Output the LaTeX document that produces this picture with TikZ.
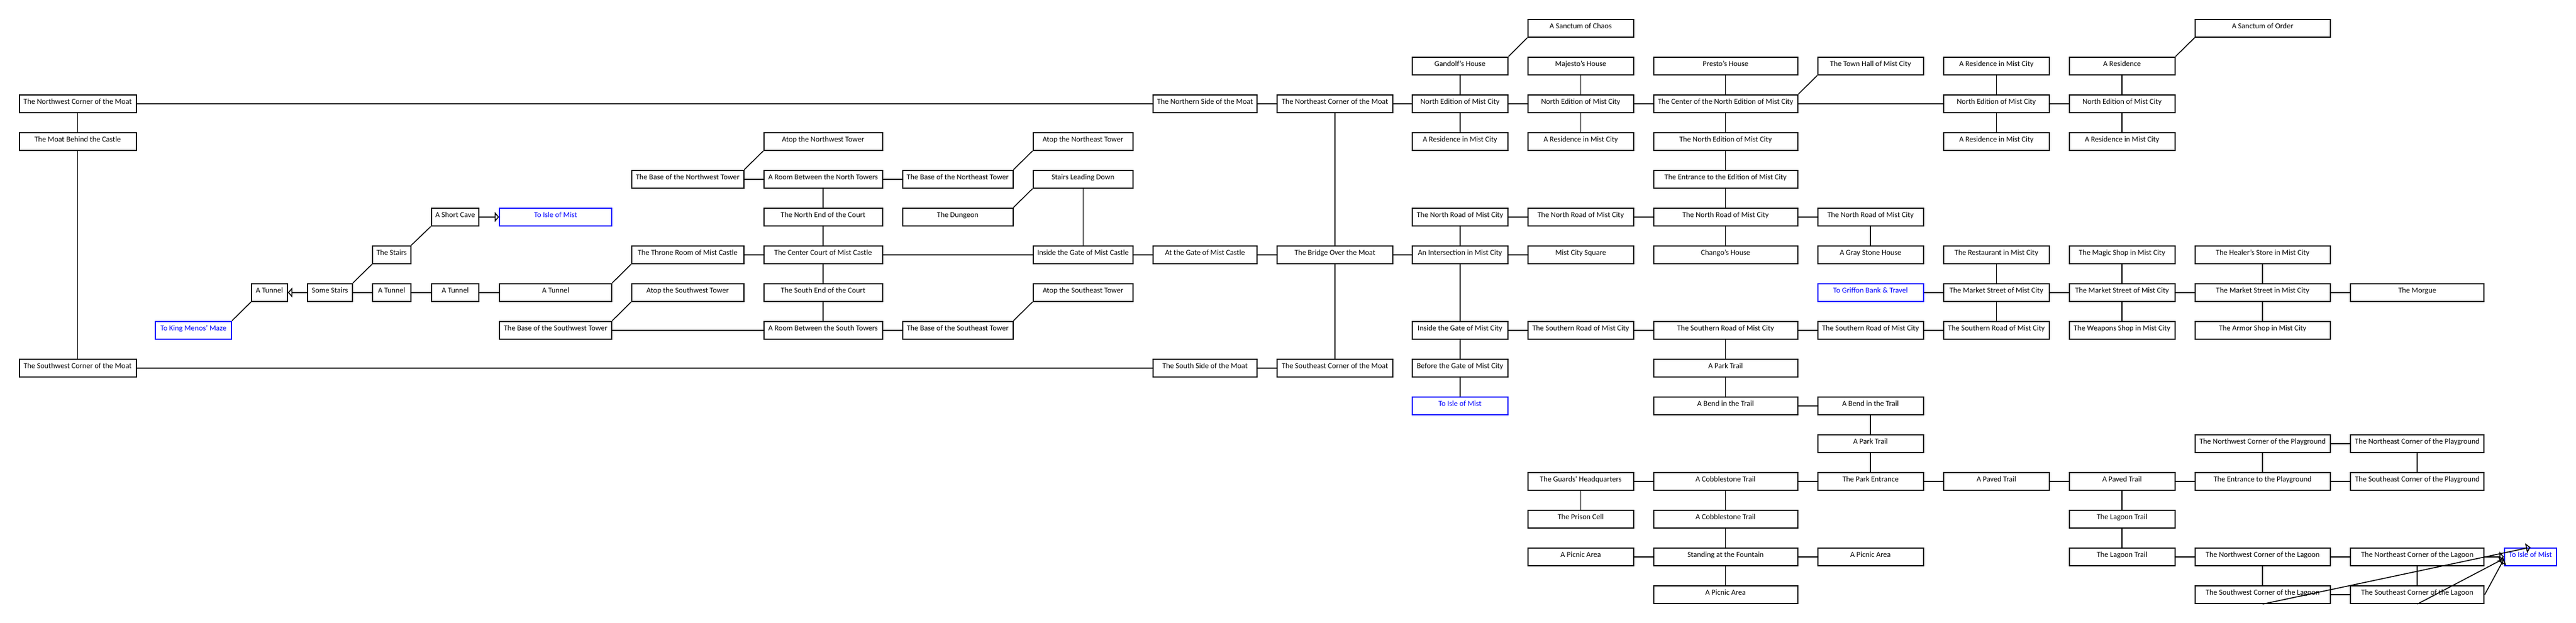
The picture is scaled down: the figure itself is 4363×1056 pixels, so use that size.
\documentclass[tikz,border=0pt]{standalone}
\usepackage{fontspec}
\setmainfont{Carlito}
\usetikzlibrary{arrows.meta}
\newcommand\defcol[3]{\expandafter\def\csname colL#1\endcsname{#2}\expandafter\def\csname colR#1\endcsname{#3}}
\defcol{0}{31.6}{231.5}
\defcol{1}{262.4}{392.9}
\defcol{2}{425}{487.6}
\defcol{3}{519.8}{597.7}
\defcol{4}{630}{696.6}
\defcol{5}{729.6}{812.4}
\defcol{6}{845.3}{1036.9}
\defcol{7}{1068.9}{1260.5}
\defcol{8}{1292.7}{1495.5}
\defcol{9}{1527.7}{1716.5}
\defcol{10}{1748.7}{1919.9}
\defcol{11}{1951.5}{2130.4}
\defcol{12}{2162.4}{2359.6}
\defcol{13}{2390.6}{2555}
\defcol{14}{2586.8}{2767.8}
\defcol{15}{2799.5}{3045.8}
\defcol{16}{3077.8}{3258.5}
\defcol{17}{3290.8}{3471.8}
\defcol{18}{3503.5}{3684.8}
\defcol{19}{3717}{3947.5}
\defcol{20}{3980}{4208.4}
\defcol{21}{4240.9}{4330.7}
\newcommand\roombox[5][]{%
  \node[room,#1,minimum width={\csname colR#3\endcsname-\csname colL#3\endcsname-2}]
    (#2) at ({(\csname colL#3\endcsname+\csname colR#3\endcsname)/2},{47.8+64*#4}) {#5};}
\tikzset{
  room/.style={draw=black, line width=2pt, rectangle, inner xsep=0pt, inner ysep=0pt,
    text height=16pt, text depth=14.3pt, font=\fontsize{13}{15}\selectfont},
  warp/.style={draw=blue, text=blue},
  link/.style={line width=1.6pt, draw=black},
  arr/.style={link, -{Triangle[open, length=7.5pt, width=17pt]}},
}
\begin{document}
\begin{tikzpicture}[x=1pt,y=-1pt]
\fill[white] (0,0) rectangle (4363,1056);
\useasboundingbox (0,0) rectangle (4363,1056);
% column 0
\roombox{nwm}{0}{2}{The Northwest Corner of the Moat}
\roombox{moatb}{0}{3}{The Moat Behind the Castle}
\roombox{swm}{0}{9}{The Southwest Corner of the Moat}
\roombox[warp]{menos}{1}{8}{To King Menos' Maze}
\roombox{tun1}{2}{7}{A Tunnel}
\roombox{somest}{3}{7}{Some Stairs}
\roombox{stairs}{4}{6}{The Stairs}
\roombox{tun2}{4}{7}{A Tunnel}
\roombox{cave}{5}{5}{A Short Cave}
\roombox{tun3}{5}{7}{A Tunnel}
\roombox[warp]{isleA}{6}{5}{To Isle of Mist}
\roombox{tun4}{6}{7}{A Tunnel}
\roombox{basesw}{6}{8}{The Base of the Southwest Tower}
\roombox{basenw}{7}{4}{The Base of the Northwest Tower}
\roombox{throne}{7}{6}{The Throne Room of Mist Castle}
\roombox{atopsw}{7}{7}{Atop the Southwest Tower}
\roombox{atopnw}{8}{3}{Atop the Northwest Tower}
\roombox{roomn}{8}{4}{A Room Between the North Towers}
\roombox{nend}{8}{5}{The North End of the Court}
\roombox{ccourt}{8}{6}{The Center Court of Mist Castle}
\roombox{send}{8}{7}{The South End of the Court}
\roombox{rooms}{8}{8}{A Room Between the South Towers}
\roombox{basene}{9}{4}{The Base of the Northeast Tower}
\roombox{dungeon}{9}{5}{The Dungeon}
\roombox{basese}{9}{8}{The Base of the Southeast Tower}
\roombox{atopne}{10}{3}{Atop the Northeast Tower}
\roombox{stdown}{10}{4}{Stairs Leading Down}
\roombox{insidec}{10}{6}{Inside the Gate of Mist Castle}
\roombox{atopse}{10}{7}{Atop the Southeast Tower}
\roombox{nside}{11}{2}{The Northern Side of the Moat}
\roombox{atgate}{11}{6}{At the Gate of Mist Castle}
\roombox{sside}{11}{9}{The South Side of the Moat}
\roombox{nem}{12}{2}{The Northeast Corner of the Moat}
\roombox{bridge}{12}{6}{The Bridge Over the Moat}
\roombox{sem}{12}{9}{The Southeast Corner of the Moat}
% city
\roombox{gandolf}{13}{1}{Gandolf's House}
\roombox{ned1}{13}{2}{North Edition of Mist City}
\roombox{res1}{13}{3}{A Residence in Mist City}
\roombox{nr1}{13}{5}{The North Road of Mist City}
\roombox{inter}{13}{6}{An Intersection in Mist City}
\roombox{insidem}{13}{8}{Inside the Gate of Mist City}
\roombox{before}{13}{9}{Before the Gate of Mist City}
\roombox[warp]{isleB}{13}{10}{To Isle of Mist}
\roombox{chaos}{14}{0}{A Sanctum of Chaos}
\roombox{majesto}{14}{1}{Majesto's House}
\roombox{ned2}{14}{2}{North Edition of Mist City}
\roombox{res2}{14}{3}{A Residence in Mist City}
\roombox{nr2}{14}{5}{The North Road of Mist City}
\roombox{square}{14}{6}{Mist City Square}
\roombox{sra}{14}{8}{The Southern Road of Mist City}
\roombox{guards}{14}{12}{The Guards' Headquarters}
\roombox{prison}{14}{13}{The Prison Cell}
\roombox{pic1}{14}{14}{A Picnic Area}
\roombox{presto}{15}{1}{Presto's House}
\roombox{cne}{15}{2}{The Center of the North Edition of Mist City}
\roombox{tne}{15}{3}{The North Edition of Mist City}
\roombox{entr}{15}{4}{The Entrance to the Edition of Mist City}
\roombox{nr3}{15}{5}{The North Road of Mist City}
\roombox{chango}{15}{6}{Chango's House}
\roombox{srb}{15}{8}{The Southern Road of Mist City}
\roombox{ptrail1}{15}{9}{A Park Trail}
\roombox{bend1}{15}{10}{A Bend in the Trail}
\roombox{cob1}{15}{12}{A Cobblestone Trail}
\roombox{cob2}{15}{13}{A Cobblestone Trail}
\roombox{fountain}{15}{14}{Standing at the Fountain}
\roombox{pic3}{15}{15}{A Picnic Area}
\roombox{townhall}{16}{1}{The Town Hall of Mist City}
\roombox{nr4}{16}{5}{The North Road of Mist City}
\roombox{gray}{16}{6}{A Gray Stone House}
\roombox[warp]{griffon}{16}{7}{To Griffon Bank \& Travel}
\roombox{src}{16}{8}{The Southern Road of Mist City}
\roombox{bend2}{16}{10}{A Bend in the Trail}
\roombox{ptrail2}{16}{11}{A Park Trail}
\roombox{pentr}{16}{12}{The Park Entrance}
\roombox{pic2}{16}{14}{A Picnic Area}
\roombox{res3}{17}{1}{A Residence in Mist City}
\roombox{ned3}{17}{2}{North Edition of Mist City}
\roombox{res4}{17}{3}{A Residence in Mist City}
\roombox{restaurant}{17}{6}{The Restaurant in Mist City}
\roombox{mkt1}{17}{7}{The Market Street of Mist City}
\roombox{srd}{17}{8}{The Southern Road of Mist City}
\roombox{paved1}{17}{12}{A Paved Trail}
\roombox{ares}{18}{1}{A Residence}
\roombox{ned4}{18}{2}{North Edition of Mist City}
\roombox{res5}{18}{3}{A Residence in Mist City}
\roombox{magic}{18}{6}{The Magic Shop in Mist City}
\roombox{mkt2}{18}{7}{The Market Street of Mist City}
\roombox{weapons}{18}{8}{The Weapons Shop in Mist City}
\roombox{paved2}{18}{12}{A Paved Trail}
\roombox{lag1}{18}{13}{The Lagoon Trail}
\roombox{lag2}{18}{14}{The Lagoon Trail}
\roombox{order}{19}{0}{A Sanctum of Order}
\roombox{healer}{19}{6}{The Healer's Store in Mist City}
\roombox{mkt3}{19}{7}{The Market Street in Mist City}
\roombox{armor}{19}{8}{The Armor Shop in Mist City}
\roombox{nwpg}{19}{11}{The Northwest Corner of the Playground}
\roombox{epg}{19}{12}{The Entrance to the Playground}
\roombox{nwl}{19}{14}{The Northwest Corner of the Lagoon}
\roombox{swl}{19}{15}{The Southwest Corner of the Lagoon}
\roombox{morgue}{20}{7}{The Morgue}
\roombox{nepg}{20}{11}{The Northeast Corner of the Playground}
\roombox{sepg}{20}{12}{The Southeast Corner of the Playground}
\roombox{nel}{20}{14}{The Northeast Corner of the Lagoon}
\roombox{sel}{20}{15}{The Southeast Corner of the Lagoon}
\roombox[warp]{isleC}{21}{14}{To Isle of Mist}
% straight links
\foreach \a/\b in {nwm/moatb, moatb/swm, nwm/nside, nside/nem, swm/sside, sside/sem, nem/bridge, bridge/sem,
  somest/tun2, tun2/tun3, tun3/tun4, throne/ccourt, basenw/roomn, roomn/basene, roomn/nend, nend/ccourt,
  ccourt/send, send/rooms, basesw/rooms, rooms/basese, stdown/insidec, ccourt/insidec, insidec/atgate,
  atgate/bridge, bridge/inter, nem/ned1, gandolf/ned1, ned1/res1, ned1/ned2, majesto/ned2, ned2/res2,
  ned2/cne, presto/cne, cne/tne, tne/entr, entr/nr3, cne/ned3, res3/ned3, ned3/res4, ned3/ned4, ares/ned4,
  ned4/res5, nr1/nr2, nr2/nr3, nr3/nr4, nr1/inter, inter/square, nr3/chango, nr4/gray, inter/insidem,
  insidem/before, before/isleB, insidem/sra, sra/srb, srb/src, src/srd, griffon/mkt1, restaurant/mkt1,
  mkt1/srd, mkt1/mkt2, magic/mkt2, mkt2/weapons, mkt2/mkt3, healer/mkt3, mkt3/armor, mkt3/morgue,
  srb/ptrail1, ptrail1/bend1, bend1/bend2, bend2/ptrail2, ptrail2/pentr, guards/cob1, cob1/pentr,
  pentr/paved1, paved1/paved2, paved2/epg, epg/sepg, nwpg/epg, nwpg/nepg, nepg/sepg, guards/prison,
  cob1/cob2, cob2/fountain, pic1/fountain, fountain/pic2, fountain/pic3, paved2/lag1, lag1/lag2,
  lag2/nwl, nwl/nel, nwl/swl, nel/sel, swl/sel}
  \draw[link] (\a) -- (\b);
% diagonal links
\foreach \a/\b in {menos/tun1, somest/stairs, stairs/cave, tun4/throne, basesw/atopsw, basese/atopse,
  basenw/atopnw, basene/atopne, dungeon/stdown, gandolf/chaos, cne/townhall, ares/order}
  \draw[link] (\a.north east) -- (\b.south west);
% arrows
\draw[arr] (somest) -- (tun1);
\draw[arr] (cave) -- (isleA);
\draw[arr] (nel) -- (isleC);
\draw[arr] (swl.south) -- (isleC.north);
\draw[arr] (sel.south) -- ([yshift=-3pt]isleC.west);
\draw[arr] (sel.east) -- ([yshift=-4pt]isleC.west);
\end{tikzpicture}
\end{document}
